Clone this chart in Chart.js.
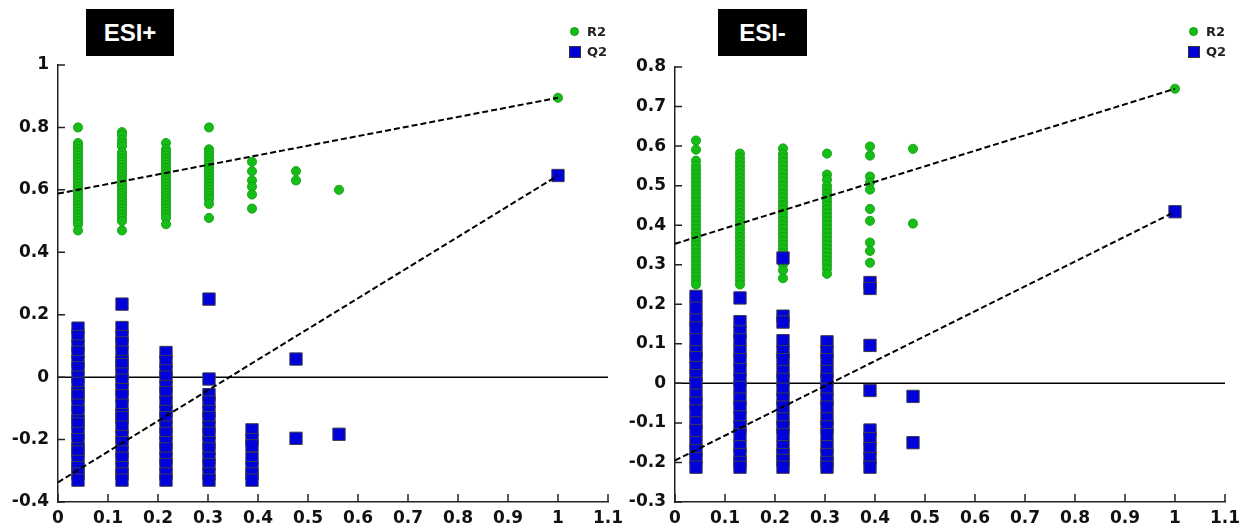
<!DOCTYPE html>
<html>
<head>
<meta charset="utf-8">
<script src="https://cdn.jsdelivr.net/npm/chart.js@4.4.1/dist/chart.umd.min.js"></script>
<style>
  body { margin: 0; background: #fff; width: 1247px; height: 528px; overflow: hidden; position: relative; }
  .panel { position: absolute; top: 0; height: 528px; }
  .title { position: absolute; top: 9px; height: 47px; background: #000; color: #fff;
           font: bold 24px "Liberation Sans", Arial, sans-serif; line-height: 47px; text-align: center; }
  .leg { position: absolute; font: bold 13px "DejaVu Sans", sans-serif; color: #222; line-height: 16px; }
  .dot { position: absolute; width: 9px; height: 9px; border-radius: 50%; background: #16bd16; border: 1px solid #0f9a0f; box-sizing: border-box; }
  .sq { position: absolute; width: 12px; height: 12px; background: #0000d8; border: 1px solid #333; box-sizing: border-box; }
</style>
</head>
<body>
<div class="panel" style="left:0;width:624px"><canvas id="pos" width="624" height="528"></canvas></div>
<div class="panel" style="left:624px;width:623px"><canvas id="neg" width="623" height="528"></canvas></div>

<div class="title" style="left:86px;width:88px">ESI+</div>
<div class="title" style="left:718px;width:89px">ESI-</div>

<div class="dot" style="left:570px;top:27px"></div><div class="leg" style="left:587px;top:24px">R2</div>
<div class="sq" style="left:569px;top:46px"></div><div class="leg" style="left:587px;top:44px">Q2</div>
<div class="dot" style="left:1189px;top:27px"></div><div class="leg" style="left:1206px;top:24px">R2</div>
<div class="sq" style="left:1188px;top:46px"></div><div class="leg" style="left:1206px;top:44px">Q2</div>

<script>
// ---- ESI+ ----
const posPermX = [0.04, 0.128, 0.216, 0.302, 0.388, 0.476, 0.562];
const posR2 = [
  [0.80, 0.75, 0.74, 0.73, 0.72, 0.71, 0.70, 0.69, 0.68, 0.67, 0.66, 0.65, 0.64, 0.63, 0.62, 0.61, 0.60, 0.59, 0.58, 0.57, 0.56, 0.55, 0.54, 0.53, 0.52, 0.51, 0.50, 0.49, 0.47],
  [0.785, 0.775, 0.76, 0.75, 0.74, 0.72, 0.71, 0.70, 0.69, 0.68, 0.67, 0.66, 0.65, 0.64, 0.63, 0.62, 0.61, 0.60, 0.59, 0.58, 0.57, 0.56, 0.55, 0.54, 0.53, 0.52, 0.51, 0.50, 0.47],
  [0.75, 0.73, 0.72, 0.71, 0.70, 0.69, 0.68, 0.67, 0.66, 0.65, 0.64, 0.63, 0.62, 0.61, 0.60, 0.59, 0.58, 0.57, 0.56, 0.55, 0.54, 0.53, 0.52, 0.51, 0.49],
  [0.80, 0.73, 0.72, 0.71, 0.70, 0.69, 0.68, 0.67, 0.66, 0.65, 0.64, 0.63, 0.62, 0.61, 0.60, 0.59, 0.58, 0.57, 0.555, 0.51],
  [0.69, 0.66, 0.63, 0.61, 0.585, 0.54],
  [0.66, 0.63],
  [0.60]
];
const posQ2 = [
  [0.157, 0.13, 0.10, 0.08, 0.05, 0.03, 0.0, -0.02, -0.05, -0.06, -0.09, -0.11, -0.14, -0.15, -0.18, -0.20, -0.23, -0.24, -0.27, -0.29, -0.31, -0.33],
  [0.234, 0.159, 0.13, 0.11, 0.08, 0.05, 0.04, 0.01, -0.01, -0.04, -0.06, -0.09, -0.12, -0.13, -0.16, -0.19, -0.21, -0.24, -0.26, -0.29, -0.31, -0.33],
  [0.079, 0.05, 0.02, 0.0, -0.03, -0.05, -0.08, -0.11, -0.13, -0.16, -0.18, -0.21, -0.23, -0.26, -0.28, -0.31, -0.33],
  [0.25, -0.006, -0.056, -0.08, -0.11, -0.13, -0.16, -0.18, -0.21, -0.23, -0.26, -0.28, -0.31, -0.33],
  [-0.169, -0.20, -0.22, -0.26, -0.29, -0.31, -0.33],
  [0.058, -0.196],
  [-0.183]
];
const posOrig = { r2: 0.895, q2: 0.646 };
const posR2Line = [0.588, 0.895];
const posQ2Line = [-0.337, 0.646];
const posYTicks = { min: -0.4, max: 1, step: 0.2 };

// ---- ESI- ----
const negPermX = [0.042, 0.13, 0.216, 0.304, 0.39, 0.476];
const negR2 = [
  [0.614, 0.591, 0.563, 0.55, 0.54, 0.53, 0.52, 0.51, 0.50, 0.49, 0.48, 0.47, 0.46, 0.45, 0.44, 0.43, 0.42, 0.41, 0.40, 0.39, 0.38, 0.37, 0.36, 0.35, 0.34, 0.33, 0.32, 0.31, 0.30, 0.29, 0.28, 0.27, 0.26, 0.25],
  [0.581, 0.57, 0.56, 0.55, 0.54, 0.53, 0.52, 0.51, 0.50, 0.49, 0.48, 0.47, 0.46, 0.45, 0.44, 0.43, 0.42, 0.41, 0.40, 0.39, 0.38, 0.37, 0.36, 0.35, 0.34, 0.33, 0.32, 0.31, 0.30, 0.29, 0.28, 0.27, 0.26, 0.25],
  [0.594, 0.58, 0.57, 0.56, 0.55, 0.54, 0.53, 0.52, 0.51, 0.50, 0.49, 0.48, 0.47, 0.46, 0.45, 0.44, 0.43, 0.42, 0.41, 0.40, 0.39, 0.38, 0.37, 0.36, 0.35, 0.34, 0.33, 0.32, 0.31, 0.30, 0.286, 0.266],
  [0.581, 0.528, 0.515, 0.50, 0.49, 0.48, 0.47, 0.46, 0.45, 0.44, 0.43, 0.42, 0.41, 0.40, 0.39, 0.38, 0.37, 0.36, 0.35, 0.34, 0.33, 0.32, 0.31, 0.30, 0.29, 0.277],
  [0.599, 0.576, 0.523, 0.508, 0.49, 0.441, 0.411, 0.356, 0.335, 0.305],
  [0.593, 0.404]
];
const negQ2 = [
  [0.22, 0.19, 0.16, 0.14, 0.11, 0.08, 0.065, 0.04, 0.02, 0.0, -0.03, -0.05, -0.07, -0.10, -0.12, -0.15, -0.17, -0.19, -0.212],
  [0.216, 0.156, 0.13, 0.11, 0.08, 0.06, 0.035, 0.01, -0.01, -0.04, -0.06, -0.085, -0.11, -0.13, -0.16, -0.18, -0.2, -0.212],
  [0.317, 0.17, 0.155, 0.108, 0.08, 0.06, 0.03, 0.01, -0.015, -0.04, -0.06, -0.09, -0.11, -0.13, -0.16, -0.18, -0.195, -0.212],
  [0.105, 0.08, 0.06, 0.03, 0.01, -0.015, -0.04, -0.06, -0.09, -0.11, -0.13, -0.16, -0.18, -0.2, -0.212],
  [0.255, 0.24, 0.096, -0.018, -0.118, -0.14, -0.165, -0.19, -0.212],
  [-0.033, -0.15]
];
const negOrig = { r2: 0.745, q2: 0.434 };
const negR2Line = [0.353, 0.745];
const negQ2Line = [-0.195, 0.434];
const negYTicks = { min: -0.3, max: 0.8, step: 0.1 };

const origX = 1;
const lineX = [0, 1];
const xTicks = { min: 0, max: 1.1, step: 0.1 };

function toPoints(xs, cols, orig) {
  const pts = [];
  cols.forEach((col, i) => col.forEach((y) => pts.push({ x: xs[i], y })));
  pts.push({ x: origX, y: orig });
  return pts;
}

const fmt = (v) => String(parseFloat(v.toFixed(2)));

// inward tick marks, like the original plot
const innerTicks = {
  id: 'innerTicks',
  afterDraw(chart) {
    const { ctx, scales: { x, y } } = chart;
    ctx.save();
    ctx.strokeStyle = '#222';
    ctx.lineWidth = 1.5;
    ctx.beginPath();
    x.ticks.forEach((t) => {
      const px = x.getPixelForValue(t.value);
      ctx.moveTo(px, y.bottom);
      ctx.lineTo(px, y.bottom - 8);
    });
    y.ticks.forEach((t) => {
      const py = y.getPixelForValue(t.value);
      ctx.moveTo(x.left, py);
      ctx.lineTo(x.left + 7, py);
    });
    ctx.stroke();
    ctx.restore();
  }
};

function makeChart(id, d) {
  const tickFont = { family: '"DejaVu Sans", sans-serif', size: 17, weight: 'bold' };
  return new Chart(document.getElementById(id), {
    type: 'scatter',
    data: {
      datasets: [
        {
          type: 'line', data: lineX.map((x, i) => ({ x, y: d.r2Line[i] })),
          borderColor: '#000', borderWidth: 2, borderDash: [6, 3], pointRadius: 0, fill: false
        },
        {
          type: 'line', data: lineX.map((x, i) => ({ x, y: d.q2Line[i] })),
          borderColor: '#000', borderWidth: 2, borderDash: [6, 3], pointRadius: 0, fill: false
        },
        {
          label: 'Q2', data: toPoints(d.permX, d.q2, d.orig.q2),
          pointStyle: 'rect', pointRadius: 8.7, backgroundColor: '#0000d8', borderColor: '#3a3a50', borderWidth: 1
        },
        {
          label: 'R2', data: toPoints(d.permX, d.r2, d.orig.r2),
          pointStyle: 'circle', pointRadius: 4.6, backgroundColor: '#16bd16', borderColor: '#0f9a0f', borderWidth: 0.8
        },
        {
          type: 'line', data: [{ x: xTicks.min, y: 0 }, { x: xTicks.max, y: 0 }],
          borderColor: '#000', borderWidth: 1.5, pointRadius: 0, fill: false
        }
      ]
    },
    options: {
      responsive: false,
      animation: false,
      layout: { padding: d.padding },
      plugins: { legend: { display: false }, tooltip: { enabled: false } },
      scales: {
        x: {
          type: 'linear', min: xTicks.min, max: xTicks.max,
          ticks: { stepSize: xTicks.step, color: '#111', font: tickFont, padding: 6, callback: fmt, maxRotation: 0 },
          grid: { drawOnChartArea: false, drawTicks: false },
          border: { display: true, color: '#222', width: 1.5 },
          afterFit: (s) => { s.height = 26; s.paddingLeft = 0; s.paddingRight = 0; }
        },
        y: {
          type: 'linear', min: d.yTicks.min, max: d.yTicks.max,
          ticks: { stepSize: d.yTicks.step, color: '#111', font: tickFont, padding: 9, callback: fmt },
          grid: { drawOnChartArea: false, drawTicks: false },
          border: { display: true, color: '#222', width: 1.5 },
          afterFit: (s) => { s.width = d.yWidth; }
        }
      }
    },
    plugins: [innerTicks]
  });
}

makeChart('pos', {
  permX: posPermX, r2: posR2, q2: posQ2, orig: posOrig,
  r2Line: posR2Line, q2Line: posQ2Line, yTicks: posYTicks,
  yWidth: 58, padding: { top: 65, right: 16, left: 0, bottom: 0 }
});
makeChart('neg', {
  permX: negPermX, r2: negR2, q2: negQ2, orig: negOrig,
  r2Line: negR2Line, q2Line: negQ2Line, yTicks: negYTicks,
  yWidth: 51, padding: { top: 67, right: 22, left: 0, bottom: 0 }
});
</script>
</body>
</html>
